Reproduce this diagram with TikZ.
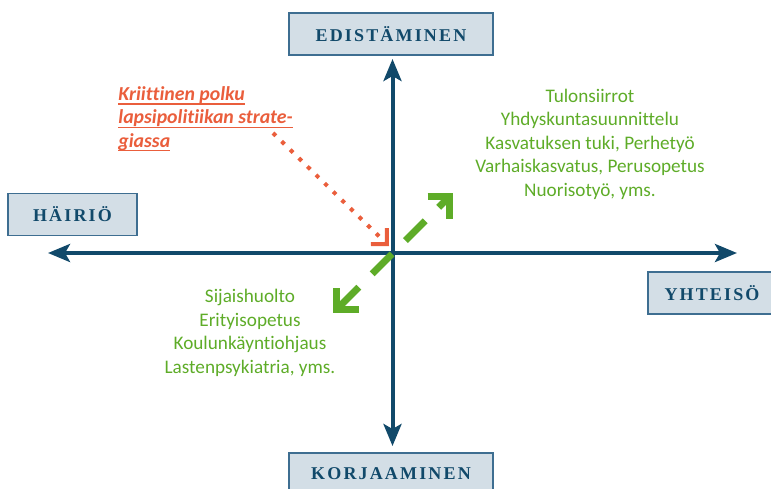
\documentclass[tikz,border=0pt]{standalone}
\usepackage{fontspec}
\usepackage{tikz}
\usetikzlibrary{arrows.meta}

\newfontfamily\boxfont[LetterSpace=12]{Liberation Serif}
\newfontfamily\listfont[Ligatures=NoCommon]{Carlito}
\newfontfamily\notefont[Ligatures=NoCommon]{Carlito}
\newcommand\ulbar[1]{\setbox0\hbox{#1}\rlap{\rule[-2.2pt]{\wd0}{0.7pt}}\box0}

\definecolor{axisblue}{RGB}{17,73,106}
\definecolor{boxfill}{RGB}{211,222,230}
\definecolor{boxline}{RGB}{62,110,145}
\definecolor{pathgreen}{RGB}{94,172,40}
\definecolor{notered}{RGB}{234,94,60}

\begin{document}
\begin{tikzpicture}
	[x=0.5pt,y=-0.5pt,
		main axis/.style={axisblue,line width=2pt,{Stealth[length=11pt,width=9pt,inset=2.5pt]}-{Stealth[length=11pt,width=9pt,inset=2.5pt]}},
		end box/.style={draw=boxline,fill=boxfill,line width=0.8pt,minimum width=102pt,minimum height=21pt,inner sep=0pt,text=axisblue,font=\boxfont\bfseries\fontsize{9}{10}\selectfont},
		service list/.style={align=center,text=pathgreen,font=\listfont\fontsize{9.6}{11.75}\selectfont},
		path line/.style={pathgreen,line width=3.5pt,dash pattern=on 14pt off 9.5pt,{Straight Barb[angle=90:11pt]}-{Straight Barb[angle=90:11pt]}},
		note text/.style={align=left,inner sep=0pt,text=notered,font=\notefont\bfseries\itshape\fontsize{9.9}{11.7}\selectfont},
		note line/.style={notered,line width=2pt,dash pattern=on 2pt off 4pt,-{Straight Barb[angle=90:8pt]}}]

	\useasboundingbox (0,0) rectangle (771,488);
	\clip (0,0) rectangle (771,488);

	% the four ends of the axes
	\node[end box]    (up)    at (391,34)    {EDISTÄMINEN};
	\node[end box, minimum width=64.5pt]    (left)    at (72.5,214.5)  {HÄIRIÖ};
	\node[end box, minimum width=64pt]    (right)   at (712,293)   {YHTEISÖ};
	\node[end box]    (down)  at (391,474)   {KORJAAMINEN};

	\coordinate (W) at (48,253);
	\coordinate (E) at (737,253);
	\coordinate (N) at (392.5,59);
	\coordinate (S) at (392.5,446);

	\draw[main axis] (W) -- (E);
	\draw[main axis] (N) -- (S);

	% services
	\node[service list] (plus) at (590,144) {Tulonsiirrot\\Yhdyskuntasuunnittelu\\Kasvatuksen tuki, Perhetyö\\Varhaiskasvatus, Perusopetus\\Nuorisotyö, yms.};
	\node[service list] (minus) at (250,333) {Sijaishuolto\\Erityisopetus\\Koulunkäyntiohjaus\\Lastenpsykiatria, yms.};

	\coordinate (gSW) at (333,313);
	\coordinate (gNE) at (453,193);
	\draw[path line] (gSW) -- (gNE);

	% critical path note
	\node[note text, anchor=north west] (note) at (118,86) {\ulbar{Kriittinen polku}\\\ulbar{lapsipolitiikan strate-}\\\ulbar{giassa}};
	\coordinate (r1) at (273,133);
	\coordinate (r2) at (389,246);
	\draw[note line] (r1) -- (r2);

\end{tikzpicture}
\end{document}
